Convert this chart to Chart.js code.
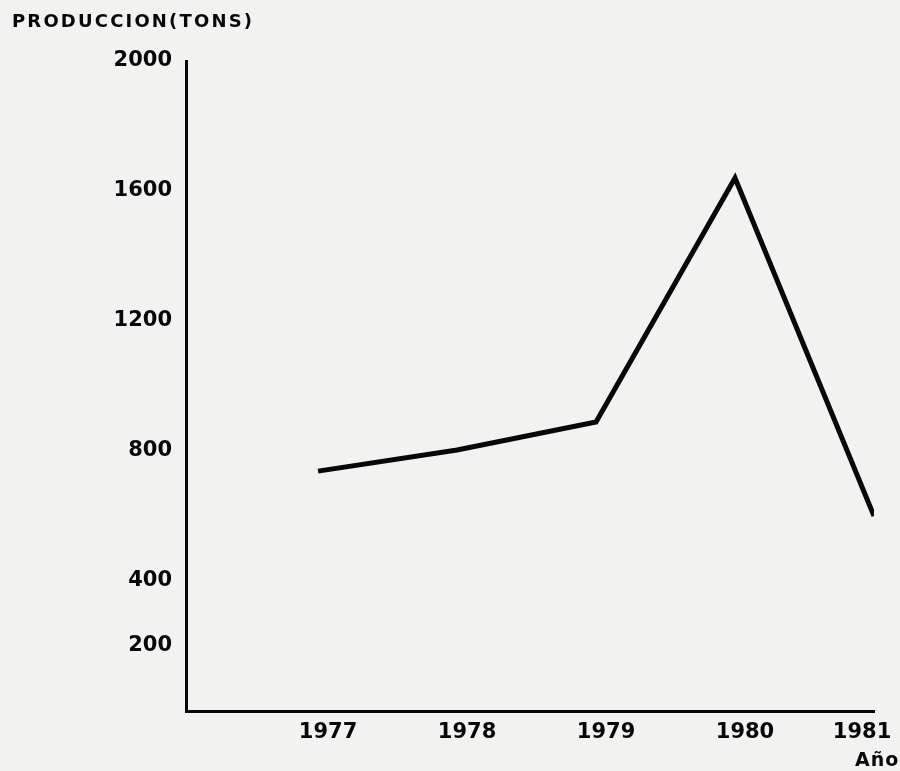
<!DOCTYPE html>
<html>
<head>
<meta charset="utf-8">
<script src="https://cdn.jsdelivr.net/npm/chart.js@4.4.1/dist/chart.umd.min.js"></script>
<style>
  html, body { margin: 0; padding: 0; background: #f2f2f0; }
  #wrap { width: 900px; height: 771px; position: relative; }
</style>
</head>
<body>
<div id="wrap"><canvas id="c" width="900" height="771"></canvas></div>
<script>
// ---- data ----
const years = [1977, 1978, 1979, 1980, 1981];
const production = [738, 803, 889, 1640, 600];
const yTickValues = [200, 400, 800, 1200, 1600, 2000];
const xTickValues = [1977, 1978, 1979, 1980, 1981];
const yTitle = 'PRODUCCION(TONS)';
const xTitle = 'Año';

const FONT = '"DejaVu Sans", "Liberation Sans", sans-serif';

const paperPlugin = {
  id: 'paper',
  beforeDraw(chart) {
    const ctx = chart.ctx;
    ctx.save();
    ctx.fillStyle = '#f2f2f0';
    ctx.fillRect(0, 0, chart.width, chart.height);
    ctx.restore();
  },
  afterDraw(chart) {
    const ctx = chart.ctx;
    ctx.save();
    ctx.fillStyle = '#080808';
    ctx.textBaseline = 'middle';
    // y-axis title, stretched with letter spacing to span its width
    ctx.font = 'bold 18px ' + FONT;
    const w = ctx.measureText(yTitle).width;
    const target = 240;
    const sp = Math.max(0, (target - w) / (yTitle.length - 1));
    ctx.letterSpacing = sp.toFixed(2) + 'px';
    ctx.textAlign = 'left';
    ctx.fillText(yTitle, 12, 22);
    // x-axis title
    ctx.font = 'bold 19px ' + FONT;
    ctx.letterSpacing = '1px';
    ctx.fillText(xTitle, 855, 761);
    ctx.restore();
  }
};

const lastYear = xTickValues[xTickValues.length - 1];

new Chart(document.getElementById('c'), {
  type: 'line',
  data: {
    datasets: [{
      data: years.map((y, i) => ({ x: y, y: production[i] })),
      borderColor: '#080808',
      borderWidth: 5,
      tension: 0,
      pointRadius: 0,
      borderJoinStyle: 'miter',
      borderCapStyle: 'butt',
      fill: false
    }]
  },
  options: {
    responsive: false,
    animation: false,
    devicePixelRatio: 1,
    layout: { padding: { left: 0, right: 26, top: 61, bottom: 0 } },
    plugins: { legend: { display: false }, tooltip: { enabled: false }, title: { display: false } },
    scales: {
      x: {
        type: 'linear',
        min: 1976.05,
        max: 1981,
        afterBuildTicks(scale) { scale.ticks = xTickValues.map(v => ({ value: v })); },
        afterFit(scale) { scale.height = 60; scale.paddingLeft = 0; scale.paddingRight = 0; },
        grid: { display: false, drawTicks: false },
        border: { display: true, color: '#080808', width: 3 },
        ticks: {
          color: '#080808',
          font: { family: FONT, size: 21, weight: 'bold' },
          padding: 9,
          labelOffset: 10,
          maxRotation: 0,
          autoSkip: false,
          // the last label sits pulled in from the page edge, as in the original
          callback: v => v === lastYear ? String(v) + '      ' : String(v)
        }
      },
      y: {
        type: 'linear',
        min: 0,
        max: 2000,
        afterBuildTicks(scale) { scale.ticks = yTickValues.map(v => ({ value: v })); },
        afterFit(scale) { scale.width = 186; scale.paddingTop = 0; scale.paddingBottom = 0; },
        grid: { display: false, drawTicks: false },
        border: { display: true, color: '#080808', width: 3 },
        ticks: {
          color: '#080808',
          font: { family: FONT, size: 21, weight: 'bold' },
          padding: 14,
          autoSkip: false,
          callback: v => String(v)
        }
      }
    }
  },
  plugins: [paperPlugin]
});
</script>
</body>
</html>
